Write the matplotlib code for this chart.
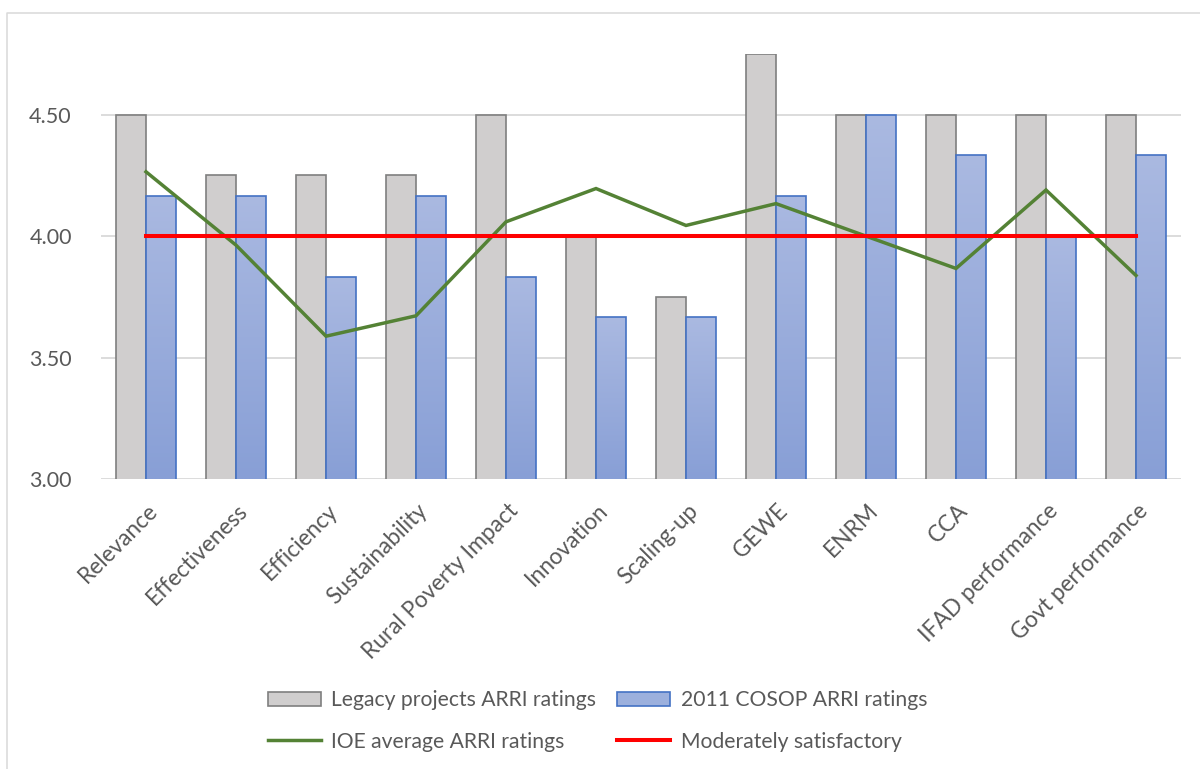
import numpy as np
import matplotlib
matplotlib.use("Agg")
import matplotlib.pyplot as plt
from matplotlib.colors import LinearSegmentedColormap
from matplotlib.transforms import ScaledTranslation
from matplotlib.lines import Line2D
from matplotlib.patches import Patch

categories = ["Relevance", "Effectiveness", "Efficiency", "Sustainability",
              "Rural Poverty Impact", "Innovation", "Scaling-up", "GEWE",
              "ENRM", "CCA", "IFAD performance", "Govt performance"]
legacy = [4.50, 4.25, 4.25, 4.25, 4.50, 4.00, 3.75, 4.75, 4.50, 4.50, 4.50, 4.50]
cosop = [4.167, 4.167, 3.833, 4.167, 3.833, 3.667, 3.667, 4.167, 4.50, 4.333, 4.00, 4.333]
ioe = [4.265, 3.963, 3.588, 3.672, 4.059, 4.196, 4.044, 4.134, 4.00, 3.867, 4.19, 3.838]
threshold = [4.00] * len(categories)
yticks = [3.00, 3.50, 4.00, 4.50]
ylabels = ["3.00", "3.50", "4.00", "4.50"]
series_names = ["Legacy projects ARRI ratings", "2011 COSOP ARRI ratings",
                "IOE average ARRI ratings", "Moderately satisfactory"]

plt.rcParams['font.family'] = ['Lato', 'DejaVu Sans']
TXT = "#595959"
GRID = "#d9d9d9"
GREY_FACE = "#d0cece"
GREY_EDGE = "#7f7f7f"
BLUE_EDGE = "#4472c4"
BLUE_TOP = "#aab9e1"
BLUE_BOT = "#889fd6"
GREEN = "#548235"
RED = "#ff0000"
FS_Y = 15.5
FS_X = 16.3
FS_L = 15.2

W, H = 1200, 769
fig = plt.figure(figsize=(W / 100, H / 100), dpi=100)
fig.patch.set_facecolor("white")

# outer frame (left and top visible)
fig.add_artist(Line2D([7 / W, 7 / W, 1.0], [0.0, 1 - 13 / H, 1 - 13 / H],
                      transform=fig.transFigure, color=GRID, lw=1.1))

ax = fig.add_axes([101 / W, 1 - 479 / H, 1080 / W, (479 - 54) / H])
x = np.arange(len(categories))
w = 1 / 3
ymin, ymax = 3.0, 4.75

ax.bar(x - w / 2, legacy, width=w, color=GREY_FACE, edgecolor=GREY_EDGE,
       linewidth=1.2, zorder=2)

cmap = LinearSegmentedColormap.from_list("bl", [BLUE_BOT, BLUE_TOP])
grad = np.linspace(1, 0, 256).reshape(-1, 1)
blue_bars = ax.bar(x + w / 2, cosop, width=w, color=BLUE_TOP, edgecolor="none",
                   linewidth=0, zorder=2)
for rect, v in zip(blue_bars, cosop):
    x0 = rect.get_x()
    im = ax.imshow(grad, extent=[x0, x0 + rect.get_width(), ymin, v],
                   cmap=cmap, aspect="auto", zorder=2.05, vmin=0, vmax=1)
    im.set_clip_path(rect)
ax.bar(x + w / 2, cosop, width=w, facecolor="none", edgecolor=BLUE_EDGE,
       linewidth=1.2, zorder=2.1)

ax.plot(x, ioe, color=GREEN, lw=2.5, zorder=3, solid_joinstyle="miter")
ax.plot(x, threshold, color=RED, lw=2.9, zorder=4)

ax.set_xlim(-0.5, len(categories) - 0.5)
ax.set_ylim(ymin, ymax)
for s in ax.spines.values():
    s.set_visible(False)
ax.set_yticks(yticks)
ax.set_yticklabels(ylabels)
ax.yaxis.grid(True, color=GRID, lw=1.3)
ax.set_axisbelow(True)
ax.tick_params(axis="y", length=0, pad=21, labelsize=FS_Y, labelcolor=TXT)
ax.tick_params(axis="x", length=0, pad=15, labelsize=FS_X, labelcolor=TXT)
ax.set_xticks(x)
ax.set_xticklabels(categories, rotation=45, ha="right", va="top",
                   rotation_mode="anchor")
off = ScaledTranslation(1 / 100, 0, fig.dpi_scale_trans)
for lab in ax.get_xticklabels():
    lab.set_transform(lab.get_transform() + off)

handles = [
    Patch(facecolor=GREY_FACE, edgecolor=GREY_EDGE, linewidth=1.2),
    Line2D([], [], color=GREEN, lw=2.5),
    Patch(facecolor="#9cb0dd", edgecolor=BLUE_EDGE, linewidth=1.2),
    Line2D([], [], color=RED, lw=2.9),
]
labels = [series_names[0], series_names[2], series_names[1], series_names[3]]
leg = fig.legend(handles, labels, ncol=2, loc="center left",
                 bbox_to_anchor=(268 / W, 1 - 721 / H), frameon=False,
                 fontsize=FS_L, labelcolor=TXT, borderpad=0, borderaxespad=0,
                 handlelength=2.5, handleheight=0.6, handletextpad=0.5,
                 columnspacing=1.0, labelspacing=1.0)

fig.savefig("out.png", dpi=100, facecolor="white")
